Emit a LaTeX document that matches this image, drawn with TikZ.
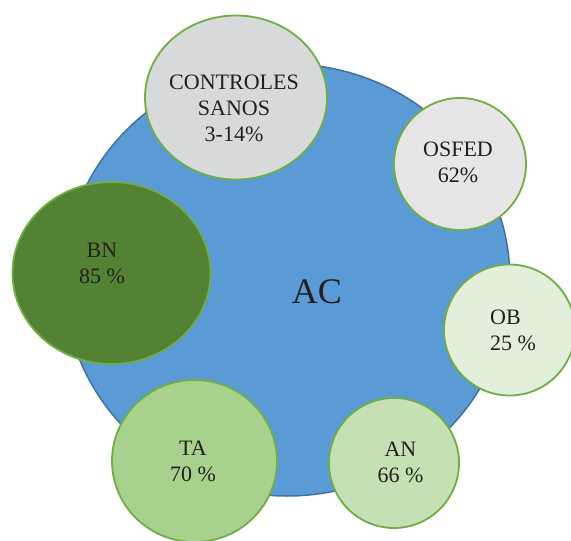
\documentclass[tikz,border=0pt]{standalone}
\usepackage{fontspec}
\setmainfont{Liberation Serif}
\usetikzlibrary{shapes.geometric}

\definecolor{acblue}{HTML}{5B9BD5}
\definecolor{acedge}{HTML}{41719C}
\definecolor{ringgreen}{HTML}{70AD47}
\definecolor{bnfill}{HTML}{548235}
\definecolor{tafill}{HTML}{A9D18E}
\definecolor{anfill}{HTML}{C5E0B4}
\definecolor{obfill}{HTML}{E2EFDA}
\definecolor{osfill}{HTML}{E7E6E6}
\definecolor{csfill}{HTML}{D8D9DB}
\definecolor{inkdark}{HTML}{231F20}

\tikzset{
  bubble/.style={ellipse, draw=ringgreen, line width=1.8pt, inner sep=0pt},
  caption/.style={text=inkdark, font=\fontsize{22}{26}\selectfont, inner sep=0pt},
}

\begin{document}
\begin{tikzpicture}[x=1pt, y=-1pt]
  \useasboundingbox (0,0) rectangle (571,541);

  % central group
  \node[ellipse, fill=acblue, draw=acedge, line width=1.5pt, inner sep=0pt,
        minimum width=446pt, minimum height=432pt] (ac) at (287,280) {};
  \node[text=inkdark, font=\fontsize{36}{40}\selectfont, inner sep=0pt] (aclabel) at (317,292) {AC};

  % surrounding groups
  \node[bubble, fill=csfill, minimum width=182pt, minimum height=164pt] (cs) at (236,97.5) {};
  \node[bubble, fill=osfill, minimum width=132pt, minimum height=132pt] (osfed) at (460,164) {};
  \node[bubble, fill=obfill, minimum width=131pt, minimum height=131pt] (ob) at (509.5,330) {};
  \node[bubble, fill=anfill, minimum width=130pt, minimum height=130pt] (an) at (394,463) {};
  \node[bubble, fill=tafill, minimum width=165pt, minimum height=162pt] (ta) at (194.5,461) {};
  \node[bubble, fill=bnfill, minimum width=198pt, minimum height=182pt] (bn) at (111.5,273) {};

  % labels
  \node[caption, align=center] (cslabel) at (234,108) {CONTROLES\\SANOS\\3-14\%};
  \node[caption, align=center] (oslabel) at (458,162.5) {OSFED\\62\%};
  \node[caption, align=left, anchor=west] (oblabel) at (490,330) {OB\\25 \%};
  \node[caption, align=center] (anlabel) at (400.5,462.5) {AN\\66 \%};
  \node[caption, align=center] (talabel) at (193,461) {TA\\70 \%};
  \node[caption, align=center] (bnlabel) at (102,263.5) {BN\\85 \%};
\end{tikzpicture}
\end{document}
